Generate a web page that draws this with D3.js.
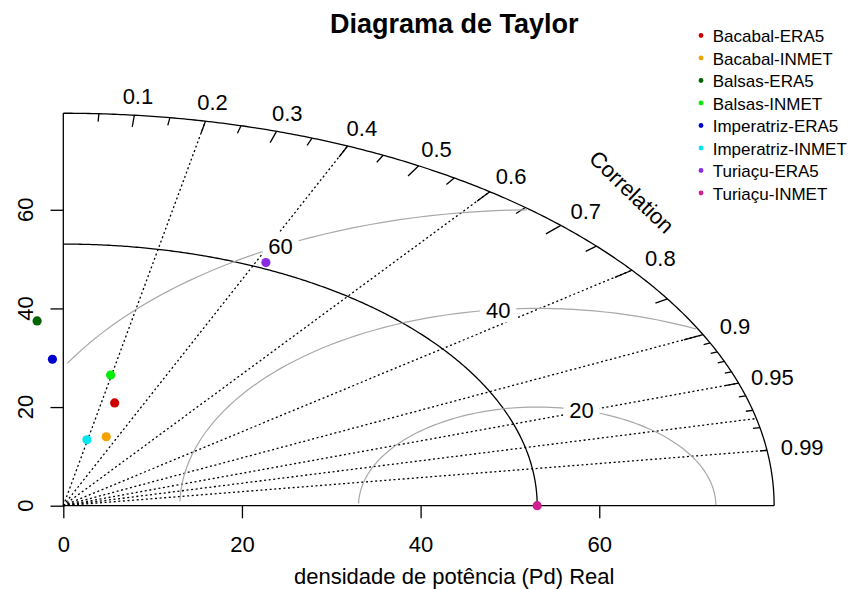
<!DOCTYPE html>
<html>
<head>
<meta charset="utf-8">
<script src="https://cdn.jsdelivr.net/npm/d3@7"></script>
<style>
    body { margin: 0; background: #ffffff; }
    text { font-family: "Liberation Sans", Arial, sans-serif; fill: #000; }
</style>
</head>
<body>
<script>
// series: std deviation and correlation per station
var stations = ["Bacabal-ERA5", "Bacabal-INMET", "Balsas-ERA5", "Balsas-INMET",
    "Imperatriz-ERA5", "Imperatriz-INMET", "Turiaçu-ERA5", "Turiaçu-INMET"];
var colors = ["#cd0000", "#f5a200", "#006400", "#00ee00", "#0000cd", "#00e5ee", "#8a2be2", "#d02090"];
var sdValues = [21.61, 14.78, 37.57, 27.03, 29.72, 13.63, 54.26, 53.05];
var corValues = [0.266, 0.325, -0.078, 0.196, -0.041, 0.194, 0.418, 1.0];

var refSd = 53.05;
var maxSd = 1.5 * refSd;
var axisTicks = [0, 20, 40, 60];
var rmsValues = [20, 40, 60];
var corLabels = [0.1, 0.2, 0.3, 0.4, 0.5, 0.6, 0.7, 0.8, 0.9, 0.95, 0.99];
var corLines = [0.2, 0.4, 0.6, 0.8, 0.9, 0.95, 0.975, 0.99];
var bigTicks = [0.1, 0.2, 0.3, 0.4, 0.5, 0.6, 0.7, 0.8, 0.9];
var medTicks = [0.05, 0.15, 0.25, 0.35, 0.45, 0.55, 0.65, 0.75, 0.85, 0.95];
var smallTicks = [0.91, 0.92, 0.93, 0.94, 0.96, 0.97, 0.98, 0.99];

const canvWidth = 852, canvHeight = 589;
const baseFont = "22px";

const svg = d3.select("body").append("svg")
    .attr("width", canvWidth)
    .attr("height", canvHeight);

// plot region is 0 .. 1.1*maxSd in both directions (like plotrix)
var xScale = d3.scaleLinear().domain([0, maxSd * 1.1]).range([63.3, 845.2]);
var yScale = d3.scaleLinear().domain([0, maxSd * 1.1]).range([505.7, 74]);

function polar(r, theta) {
    return [xScale(r * Math.cos(theta)), yScale(r * Math.sin(theta))];
}

var line = d3.line()
    .x(d => d[0])
    .y(d => d[1]);

function arcPoints(r) {
    var pts = d3.range(0, Math.PI / 2, 0.005).map(t => polar(r, t));
    pts.push(polar(r, Math.PI / 2));
    return pts;
}

// correlation rays (dotted)
svg.append("g").selectAll("path")
    .data(corLines).enter()
    .append("path")
    .attr("d", c => line([polar(0, 0), polar(maxSd, Math.acos(c))]))
    .attr("stroke", "#000")
    .attr("stroke-width", 1.3)
    .attr("stroke-dasharray", "2,2.6")
    .attr("fill", "none");

// centred RMS curves
var gammaG = svg.append("g");
rmsValues.forEach(function (g, i) {
    var pts = d3.range(0, Math.PI, 0.03)
        .map(t => [Math.cos(t) * g + refSd, Math.sin(t) * g])
        .filter(p => p[0] >= 0 && p[0] * p[0] + p[1] * p[1] <= maxSd * maxSd)
        .map(p => [xScale(p[0]), yScale(p[1])]);
    gammaG.append("path")
        .attr("d", line(pts))
        .attr("stroke", "#a8a8a8")
        .attr("stroke-width", 1.2)
        .attr("fill", "none");
});

// reference sd arc and outer arc
svg.append("path")
    .attr("d", line(arcPoints(refSd)))
    .attr("stroke", "#000").attr("stroke-width", 1.3).attr("fill", "none");
svg.append("path")
    .attr("d", line(arcPoints(maxSd)))
    .attr("stroke", "#000").attr("stroke-width", 1.3).attr("fill", "none");

// ticks on the outer arc
function drawTicks(vals, inner) {
    svg.append("g").selectAll("path")
        .data(vals).enter()
        .append("path")
        .attr("d", c => line([polar(maxSd, Math.acos(c)), polar(inner * maxSd, Math.acos(c))]))
        .attr("stroke", "#000")
        .attr("stroke-width", 1.3);
}
drawTicks(bigTicks, 0.97);
drawTicks(medTicks, 0.98);
drawTicks(smallTicks, 0.99);

// gamma labels on white boxes
var labelAngles = [44 * 0.03, 56 * 0.03, 69 * 0.03];
rmsValues.forEach(function (g, i) {
    var x = xScale(refSd + g * Math.cos(labelAngles[i]));
    var y = yScale(g * Math.sin(labelAngles[i]));
    gammaG.append("rect")
        .attr("x", x - 18).attr("y", y - 13)
        .attr("width", 36).attr("height", 26)
        .attr("fill", "#fff");
    gammaG.append("text")
        .attr("x", x).attr("y", y)
        .attr("dy", "0.36em")
        .attr("text-anchor", "middle")
        .attr("font-size", baseFont)
        .text(g);
});
svg.node().appendChild(gammaG.node());

// axis lines along x=0 and y=0
svg.append("path")
    .attr("d", line([polar(maxSd, Math.PI / 2), polar(0, 0), polar(maxSd, 0)]))
    .attr("stroke", "#000").attr("stroke-width", 1.3).attr("fill", "none");

// correlation labels
svg.append("g").selectAll("text")
    .data(corLabels).enter()
    .append("text")
    .attr("x", c => polar(1.05 * maxSd, Math.acos(c))[0])
    .attr("y", c => polar(1.05 * maxSd, Math.acos(c))[1])
    .attr("dy", "0.36em")
    .attr("text-anchor", "middle")
    .attr("font-size", baseFont)
    .text(c => c);

svg.append("text")
    .attr("transform", "translate(" + xScale(0.8 * maxSd) + "," + yScale(0.8 * maxSd) + ") rotate(44)")
    .attr("dy", "0.36em")
    .attr("text-anchor", "middle")
    .attr("font-size", baseFont)
    .text("Correlation");

// x axis
var xAxis = d3.axisBottom(xScale).tickValues(axisTicks).tickSize(12.6).tickPadding(18).tickFormat(d3.format("d"));
var xg = svg.append("g")
    .attr("transform", "translate(0," + yScale(0) + ")")
    .call(xAxis);
xg.select(".domain").remove();
xg.selectAll("line").attr("stroke-width", 1.3);
xg.selectAll("text")
    .attr("font-family", "Liberation Sans, Arial, sans-serif")
    .attr("font-size", baseFont)
    .attr("fill", "#000");

// y axis
var yAxis = d3.axisLeft(yScale).tickValues(axisTicks).tickSize(12.8).tickFormat("");
var yg = svg.append("g")
    .attr("transform", "translate(" + xScale(0) + ",0)")
    .call(yAxis);
yg.select(".domain").remove();
yg.selectAll("line").attr("stroke-width", 1.3);
svg.append("g").selectAll("text")
    .data(axisTicks).enter()
    .append("text")
    .attr("transform", d => "translate(25," + yScale(d) + ") rotate(-90)")
    .attr("dy", "0.36em")
    .attr("text-anchor", "middle")
    .attr("font-size", baseFont)
    .text(d => d);

// the points
svg.append("g").selectAll("circle")
    .data(stations).enter()
    .append("circle")
    .attr("cx", (d, i) => xScale(sdValues[i] * corValues[i]))
    .attr("cy", (d, i) => yScale(sdValues[i] * Math.sin(Math.acos(corValues[i]))))
    .attr("r", 4.6)
    .attr("fill", (d, i) => colors[i]);

// title and axis label
svg.append("text")
    .attr("x", xScale(maxSd * 0.55))
    .attr("y", 33)
    .attr("text-anchor", "middle")
    .attr("font-size", "27px")
    .attr("font-weight", "bold")
    .text("Diagrama de Taylor");

svg.append("text")
    .attr("x", xScale(maxSd * 0.55))
    .attr("y", 584)
    .attr("text-anchor", "middle")
    .attr("font-size", baseFont)
    .text("densidade de potência (Pd) Real");

// legend
var legend = svg.append("g")
    .attr("transform", "translate(701,36)");
var rows = legend.selectAll("g")
    .data(stations).enter()
    .append("g")
    .attr("transform", (d, i) => "translate(0," + i * 22.5 + ")");
rows.append("circle")
    .attr("r", 2.4)
    .attr("cy", -0.5)
    .attr("fill", (d, i) => colors[i]);
rows.append("text")
    .attr("x", 11.7)
    .attr("dy", "0.36em")
    .attr("font-size", "17px")
    .text(d => d);
</script>
</body>
</html>
